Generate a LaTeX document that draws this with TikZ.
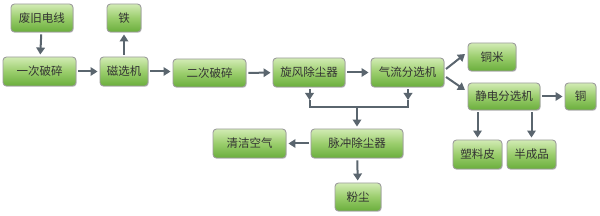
\documentclass[tikz,border=0pt]{standalone}
\usepackage{fontspec}
\newfontfamily\cjk{Noto Sans CJK SC}
\usetikzlibrary{arrows.meta,shadows}
\definecolor{boxtop}{HTML}{D2EBB4}
\definecolor{boxmid}{HTML}{9ACD6C}
\definecolor{boxbot}{HTML}{6AAE3C}
\definecolor{boxline}{HTML}{9C9C9C}
\definecolor{arrowc}{HTML}{5A656E}
\definecolor{txt}{HTML}{333333}
\tikzset{
  pbox/.style={draw=boxline, line width=0.9pt, rounded corners=3.5pt,
    top color=boxtop, bottom color=boxbot, middle color=boxmid,
    drop shadow={shadow xshift=0.8pt, shadow yshift=-1pt, opacity=0.25},
    font=\cjk\fontsize{11.5}{12}\selectfont, text=txt, inner sep=0pt},
  arr/.style={draw=arrowc, line width=2pt, -{Triangle[length=7pt,width=8.5pt]}, shorten >=2pt, shorten <=2pt},
  ln/.style={draw=arrowc, line width=2pt}
}
\begin{document}
\begin{tikzpicture}[x=1pt,y=-1pt]
\useasboundingbox (0,0) rectangle (600,216);
\node[pbox, minimum width=62pt, minimum height=28pt] (waste) at (42,18) {废旧电线};
\node[pbox, minimum width=34pt, minimum height=28pt] (iron) at (124,18) {铁};
\node[pbox, minimum width=73pt, minimum height=29pt] (c1) at (39.5,71.5) {一次破碎};
\node[pbox, minimum width=48pt, minimum height=29pt] (mag) at (124,71.5) {磁选机};
\node[pbox, minimum width=73pt, minimum height=28pt] (c2) at (209.5,73) {二次破碎};
\node[pbox, minimum width=72pt, minimum height=29pt] (cyc) at (309,72.5) {旋风除尘器};
\node[pbox, minimum width=73pt, minimum height=29pt] (air) at (407.5,72.5) {气流分选机};
\node[pbox, minimum width=48pt, minimum height=28pt] (rice) at (492,57) {铜米};
\node[pbox, minimum width=72pt, minimum height=27pt] (ele) at (504,96.5) {静电分选机};
\node[pbox, minimum width=31pt, minimum height=27pt] (cu) at (580.5,96.5) {铜};
\node[pbox, minimum width=92pt, minimum height=29pt] (pulse) at (357,143.5) {脉冲除尘器};
\node[pbox, minimum width=73pt, minimum height=29pt] (clean) at (249.5,143.5) {清洁空气};
\node[pbox, minimum width=46pt, minimum height=28pt] (dust) at (358,197) {粉尘};
\node[pbox, minimum width=49pt, minimum height=29pt] (plast) at (477.5,154.5) {塑料皮};
\node[pbox, minimum width=49pt, minimum height=29pt] (semi) at (531.5,154.5) {半成品};

\coordinate (busL) at (309.5,107);
\coordinate (busR) at (408,107);
\coordinate (busM) at (357,107);
\coordinate (tipL) at (309.5,100);
\coordinate (tipR) at (408,100);
\coordinate (d1s) at (446,69);
\coordinate (d1e) at (465,54);
\coordinate (d2s) at (446,77);
\coordinate (d2e) at (465,90);

\draw[arr] (waste) -- (c1);
\draw[arr] (c1) -- (mag);
\draw[arr] (mag) -- (iron);
\draw[arr] (mag.east) -- (mag.east -| c2.west);
\draw[arr] (c2) -- (cyc);
\draw[arr] (cyc) -- (air);
\draw[arr, shorten <=0pt, shorten >=0pt] (d1s) -- (d1e);
\draw[arr, shorten <=0pt, shorten >=0pt] (d2s) -- (d2e);
\draw[arr] (ele) -- (cu);
\draw[arr, shorten >=0pt] (cyc.south -| tipL) -- (tipL);
\draw[arr, shorten >=0pt] (air.south -| tipR) -- (tipR);
\draw[ln] (tipL) -- (busL) -- (busR) -- (tipR);
\draw[arr, shorten <=0pt] (busM) -- (pulse);
\draw[arr] (pulse) -- (clean);
\draw[arr] (pulse) -- (dust);
\draw[arr] (ele.south -| plast.north) -- (plast);
\draw[arr] (ele.south -| semi.north) -- (semi);
\end{tikzpicture}
\end{document}
